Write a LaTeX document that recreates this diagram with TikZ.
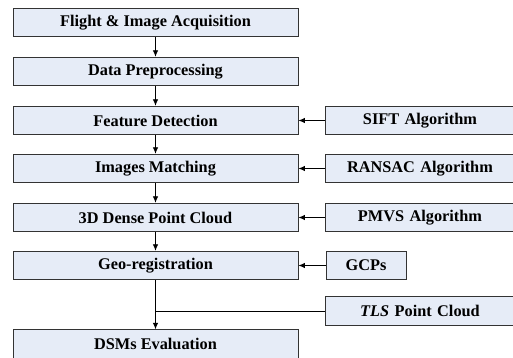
\documentclass[tikz,border=0pt]{standalone}
\usepackage{fontspec}
\setmainfont{Liberation Serif}
\usetikzlibrary{arrows.meta}
\definecolor{boxfill}{HTML}{E6ECF7}
\definecolor{boxline}{HTML}{333333}
\tikzset{
  x=1pt, y=-1pt,
  stage/.style={draw=boxline, fill=boxfill, line width=0.9pt,
    minimum width=285pt, minimum height=28.5pt, inner sep=0pt,
    font=\fontsize{16.3}{19}\selectfont\bfseries},
  tool/.style={stage, minimum width=190pt},
  flow/.style={line width=0.8pt, -{Latex[length=6.5pt,width=5.5pt]}},
}
\begin{document}
\begin{tikzpicture}
\useasboundingbox (0,0) rectangle (513,358);
\clip (0,0) rectangle (513,358);
% main processing chain
\node[stage] (acq)  at (155.5,22.5)  {Flight \& Image Acquisition};
\node[stage] (prep) at (155.5,71.5)  {Data Preprocessing};
\node[stage] (feat) at (155.5,120.5) {Feature Detection};
\node[stage] (match) at (155.5,168.5) {Images Matching};
\node[stage] (dense) at (155.5,217.5) {3D Dense Point Cloud};
\node[stage] (geo)  at (155.5,265.5) {Geo-registration};
\node[stage] (dsm)  at (155.5,344)   {DSMs Evaluation};
% supporting inputs (text centred on the visible part)
\node[tool, text width=186pt, align=center] (sift)   at (420,120.5) {SIFT Algorithm\hspace*{4pt}};
\node[tool, text width=186pt, align=center] (ransac) at (420,168.5) {RANSAC Algorithm\hspace*{4pt}};
\node[tool, text width=186pt, align=center] (pmvs)   at (420,217.5) {PMVS Algorithm\hspace*{4pt}};
\node[tool, minimum width=80pt] (gcp) at (366,265.5) {GCPs};
\node[tool, text width=186pt, align=center] (tls)    at (420,311)   {\textit{TLS} Point Cloud\hspace*{4pt}};
\coordinate (join) at (dsm.north |- tls.west);
% connectors
\draw[flow] (acq) -- (prep);
\draw[flow] (prep) -- (feat);
\draw[flow] (feat) -- (match);
\draw[flow] (match) -- (dense);
\draw[flow] (dense) -- (geo);
\draw[flow] (geo) -- (dsm);
\draw[line width=0.8pt] (tls.west) -- (join);
\draw[flow] (sift) -- (feat);
\draw[flow] (ransac) -- (match);
\draw[flow] (pmvs) -- (dense);
\draw[flow] (gcp) -- (geo);
\end{tikzpicture}
\end{document}
